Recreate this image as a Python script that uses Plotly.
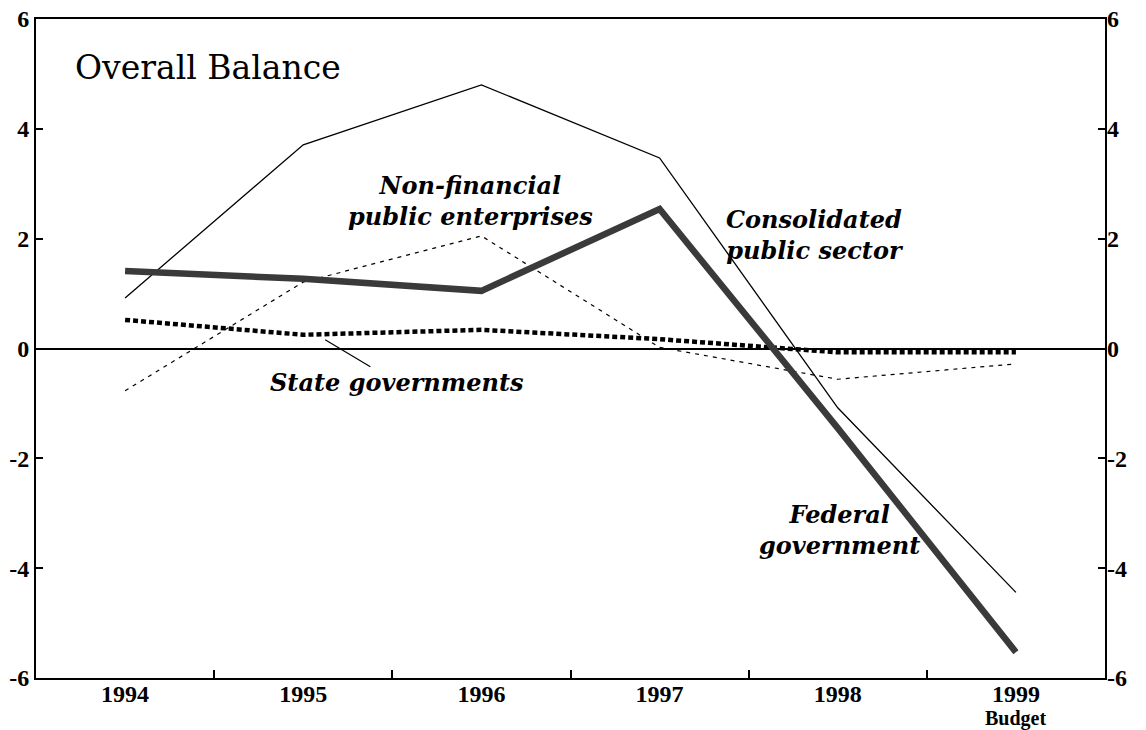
import plotly.graph_objects as go

years = ["1994", "1995", "1996", "1997", "1998", "1999"]
budget_label = "Budget"
xpos = [0, 1, 2, 3, 4, 5]

consolidated = [0.92, 3.71, 4.80, 3.47, -1.08, -4.44]
federal = [1.41, 1.27, 1.05, 2.54, -1.45, -5.53]
nonfinancial = [-0.77, 1.21, 2.05, 0.02, -0.56, -0.28]
state = [0.52, 0.25, 0.34, 0.17, -0.07, -0.07]

yticks = [-6, -4, -2, 0, 2, 4, 6]
yticktext = ["-6", "-4", "-2", "0", "2", "4", "6"]

TICKFONT = dict(family="Liberation Serif", size=24, color="black", weight="bold")
ANNFONT = dict(family="DejaVu Serif", size=24, color="black", style="italic", weight="bold")

fig = go.Figure()
fig.add_trace(go.Scatter(x=xpos, y=nonfinancial, mode="lines",
                         line=dict(color="black", width=1.2, dash="4px,5px"),
                         name="Non-financial public enterprises"))
fig.add_trace(go.Scatter(x=xpos, y=state, mode="lines",
                         line=dict(color="black", width=4.5, dash="5px,3px"),
                         name="State governments"))
fig.add_trace(go.Scatter(x=xpos, y=consolidated, mode="lines",
                         line=dict(color="black", width=1.3),
                         name="Consolidated public sector"))
fig.add_trace(go.Scatter(x=xpos, y=federal, mode="lines",
                         line=dict(color="#3a3a3a", width=6.5),
                         name="Federal government"))
# invisible trace for right axis
fig.add_trace(go.Scatter(x=xpos, y=consolidated, yaxis="y2", mode="lines",
                         line=dict(width=0), hoverinfo="skip", showlegend=False, opacity=0))

fig.update_layout(
    width=1146, height=730,
    margin=dict(l=36, r=41, t=19, b=52, autoexpand=False),
    paper_bgcolor="white", plot_bgcolor="white",
    showlegend=False,
    xaxis=dict(range=[-0.5, 5.5], tickmode="array", tickvals=xpos, ticktext=years,
               ticks="", showgrid=False, zeroline=False, automargin=False,
               showline=True, linecolor="black", linewidth=2, mirror=True,
               tickfont=TICKFONT, ticklabelstandoff=-7, ticklabeloverflow="allow",
               minor=dict(tickmode="array", tickvals=[0.5, 1.5, 2.5, 3.5, 4.5],
                          ticks="inside", ticklen=8, tickcolor="black", tickwidth=1.5,
                          showgrid=False)),
    yaxis=dict(range=[-6, 6], tickmode="array", tickvals=yticks, ticktext=yticktext,
               ticks="inside", ticklen=7, tickcolor="black", tickwidth=1.5, automargin=False,
               showgrid=False, zeroline=True, zerolinecolor="black", zerolinewidth=1.8,
               showline=True, linecolor="black", linewidth=2, mirror=True,
               tickfont=TICKFONT, ticklabelstandoff=0, ticklabeloverflow="allow"),
    yaxis2=dict(range=[-6, 6], overlaying="y", side="right", tickmode="array",
                tickvals=yticks, ticktext=yticktext, automargin=False,
                ticks="inside", ticklen=7, tickcolor="black", tickwidth=1.5,
                showgrid=False, zeroline=False, showline=False,
                tickfont=TICKFONT, ticklabelstandoff=1, ticklabeloverflow="allow"),
)

fig.add_annotation(x=5, y=-6, yref="y", text=budget_label, showarrow=False,
                   yanchor="middle", yshift=-40,
                   font=dict(family="Liberation Serif", size=20, color="black", weight="bold"))
fig.add_annotation(x=-0.29, y=5.11, text="Overall Balance", showarrow=False,
                   xanchor="left", yanchor="middle",
                   font=dict(family="DejaVu Serif", size=33, color="black"))
fig.add_annotation(x=1.937, y=2.69, text="Non-financial<br>public enterprises", showarrow=False,
                   font=ANNFONT, align="center")
fig.add_annotation(x=3.872, y=2.07, text="Consolidated<br>public sector", showarrow=False,
                   font=ANNFONT, align="center")
fig.add_annotation(x=4.012, y=-3.30, text="Federal<br>government", showarrow=False,
                   font=ANNFONT, align="center")
fig.add_annotation(x=1.123, y=0.16, text="State governments", showarrow=True,
                   arrowhead=0, arrowwidth=1.2, arrowcolor="black",
                   axref="pixel", ayref="pixel", ax=72, ay=43,
                   font=ANNFONT)

fig.write_html("out.html", config={"displayModeBar": False},
               post_script="document.body.style.margin='0';document.body.style.overflow='hidden';")
